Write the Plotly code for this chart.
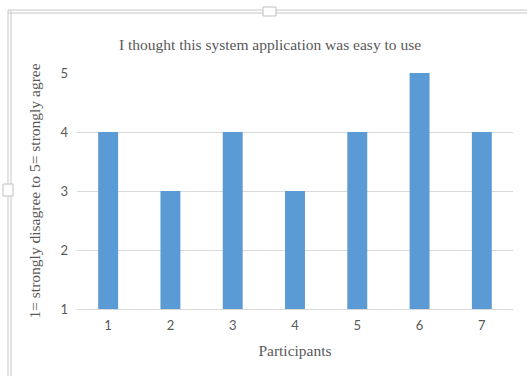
import plotly.graph_objects as go

participants = ["1", "2", "3", "4", "5", "6", "7"]
scores = [4, 3, 4, 3, 4, 5, 4]
y_ticks = [1, 2, 3, 4, 5]

W, H = 527, 376
L, R, T, B = 77, 14, 73, 67
pw, ph = W - L - R, H - T - B


def px(x):
    return (x - L) / pw


def py(y):
    return (H - B - y) / ph


fig = go.Figure(
    go.Bar(
        x=participants,
        y=scores,
        base=0,
        marker=dict(color="#5b9bd5", line=dict(width=0)),
        width=0.32,
    )
)

shapes = []
# document frame around the embedded chart
for y in (10, 13):
    shapes.append(dict(type="line", xref="paper", yref="paper",
                       x0=px(8), x1=px(W), y0=py(y), y1=py(y),
                       line=dict(color="#c8c8c8", width=1)))
for x in (8, 11):
    shapes.append(dict(type="line", xref="paper", yref="paper",
                       x0=px(x), x1=px(x), y0=py(10), y1=py(H),
                       line=dict(color="#c8c8c8", width=1)))
# resize handles
shapes.append(dict(type="rect", xref="paper", yref="paper",
                   x0=px(263), x1=px(276), y0=py(7), y1=py(16),
                   fillcolor="white", line=dict(color="#c0c0c0", width=1)))
shapes.append(dict(type="rect", xref="paper", yref="paper",
                   x0=px(3), x1=px(13), y0=py(184), y1=py(196),
                   fillcolor="white", line=dict(color="#c0c0c0", width=1)))

serif = dict(family="Liberation Serif", size=15.5, color="#595959")

fig.update_layout(
    width=W,
    height=H,
    margin=dict(l=L, r=R, t=T, b=B),
    paper_bgcolor="white",
    plot_bgcolor="white",
    showlegend=False,
    shapes=shapes,
    title=dict(
        text="I thought this system application was easy to use",
        x=px(270), xref="paper", xanchor="center",
        y=1 - 45 / H, yanchor="middle",
        font=serif,
    ),
    xaxis=dict(
        type="category",
        range=[-0.5, 6.5],
        showgrid=False,
        showline=True,
        linecolor="#d9d9d9",
        linewidth=1,
        ticks="",
        ticklabelstandoff=4,
        tickfont=dict(family="Lato", size=13, color="#595959"),
        title=dict(text="Participants", standoff=13, font=serif),
    ),
    yaxis=dict(
        range=[1, 5],
        tickvals=y_ticks,
        showgrid=True,
        gridcolor="#d9d9d9",
        gridwidth=1,
        zeroline=False,
        showline=False,
        ticks="",
        ticklabelstandoff=8,
        tickfont=dict(family="Lato", size=13, color="#595959"),
        title=dict(text="1= strongly disagree to 5= strongly agree", standoff=16,
                   font=serif),
    ),
)

fig.write_html("out.html")
